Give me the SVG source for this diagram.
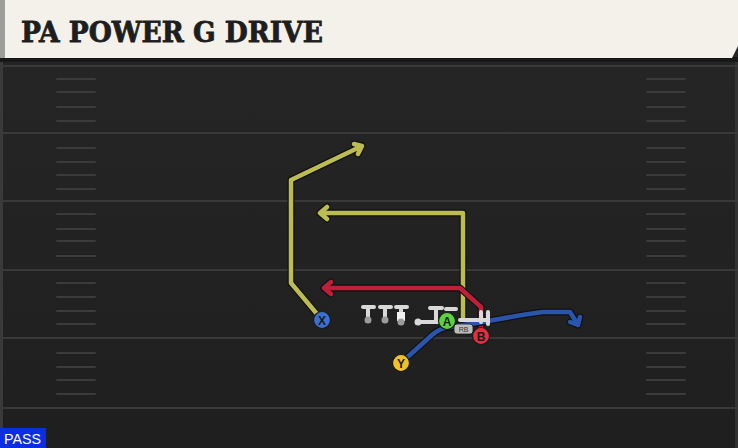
<svg xmlns="http://www.w3.org/2000/svg" width="738" height="448" viewBox="0 0 738 448">
<defs>
<style>
.fl{stroke:#393939;stroke-width:2}
.hm{stroke:#3b3b3b;stroke-width:2;stroke-linecap:round}
.out{fill:none;stroke:#111;stroke-width:7;stroke-linejoin:round;stroke-linecap:round}
.rt{fill:none;stroke-width:4.5;stroke-linejoin:round;stroke-linecap:round}
.yel{stroke:#bcbc52}
.red{stroke:#c01f3a}
.blu{stroke:#2a55ad}
.ln{fill:none;stroke:#d9d9d9;stroke-width:4;stroke-linecap:round}
.dot{fill:#9c9c9c}
.pc{stroke:#1a1a1a;stroke-width:1.2}
.pl{font-family:"Liberation Sans",Arial,sans-serif;font-size:12px;font-weight:bold;fill:#1b1b1b;text-anchor:middle}
</style>
<linearGradient id="bg" x1="0" y1="0" x2="0" y2="1">
<stop offset="0" stop-color="#262626"/>
<stop offset="1" stop-color="#1f1f1f"/>
</linearGradient>
</defs>
<rect width="738" height="448" fill="url(#bg)"/>
<rect x="0" y="60" width="3" height="388" fill="#3a3a3a"/>
<rect x="735" y="60" width="3" height="388" fill="#333"/>
<g id="field">
<line class="fl" x1="0" y1="66" x2="738" y2="66"/>
<line class="fl" x1="0" y1="133" x2="738" y2="133"/>
<line class="fl" x1="0" y1="201" x2="738" y2="201"/>
<line class="fl" x1="0" y1="270" x2="738" y2="270"/>
<line class="fl" x1="0" y1="338" x2="738" y2="338"/>
<line class="fl" x1="0" y1="408" x2="738" y2="408"/>
<path class="hm" d="M57 79H95M57 92H95M57 107H95M57 121H95M57 148H95M57 162H95M57 175H95M57 189H95M57 214H95M57 229H95M57 241H95M57 256H95M57 283H95M57 297H95M57 311H95M57 324H95M57 353H95M57 367H95M57 380H95M57 394H95"/>
<path class="hm" d="M647 79H685M647 92H685M647 107H685M647 121H685M647 148H685M647 162H685M647 175H685M647 189H685M647 214H685M647 229H685M647 241H685M647 256H685M647 283H685M647 297H685M647 311H685M647 324H685M647 353H685M647 367H685M647 380H685M647 394H685"/>
</g>
<g id="header">
<rect x="0" y="57" width="738" height="5" fill="#181818"/>
<path d="M0 0H738V46L732 58H0Z" fill="#f4f1ea"/>
<rect x="0" y="0" width="5" height="58" fill="#9d9d9b"/>
<text x="21" y="42" font-family="'DejaVu Serif',serif" font-weight="bold" font-size="27" fill="#1e1e1e" stroke="#1e1e1e" stroke-width="0.8" textLength="302" lengthAdjust="spacingAndGlyphs">PA POWER G DRIVE</text>
</g>
<g id="connectors">
<path class="out" d="M322 320L291 283V180L362 146M354 144L362 146L358 154"/>
<path class="rt yel" d="M322 320L291 283V180L362 146M354 144L362 146L358 154"/>
<path class="out" d="M463 323V213H320M327 207L320 213L327 219"/>
<path class="rt yel" d="M463 323V213H320M327 207L320 213L327 219"/>
<path class="out" d="M481 336V307L460 288H324M331 282L324 288L331 294"/>
<path class="rt red" d="M481 336V307L460 288H324M331 282L324 288L331 294"/>
<path class="out" d="M401 363L432 335Q440 328 450 327L483 322Q520 315 543 312H570L578 325M570 322L578 325L580 317"/>
<path class="rt blu" d="M401 363L432 335Q440 328 450 327L483 322Q520 315 543 312H570L578 325M570 322L578 325L580 317"/>
</g>
<g id="line">
<path class="ln" d="M363 307H374M368 307V318M380 307H391M385 307V318M396 307H407M401 307V313"/>
<circle class="dot" cx="368" cy="320" r="3.5"/>
<circle class="dot" cx="385" cy="320" r="3.5"/>
<rect x="397" y="312" width="8" height="9" fill="#f2f2f2"/>
<circle class="dot" cx="401" cy="322" r="3.5"/>
<circle cx="418" cy="322" r="3.5" fill="#d9d9d9"/>
<path class="ln" d="M418 322H440M430 308H442M436 308V322M446 309H456M460 320H488M488 312V324M481 312V322"/>
</g>
<g id="rb">
<rect x="454" y="324" width="19" height="10" rx="3" fill="#bdbdbd" stroke="#1a1a1a" stroke-width="0.8"/>
<text x="463.5" y="332" font-family="'Liberation Sans',Arial,sans-serif" font-size="7" fill="#333" text-anchor="middle">RB</text>
</g>
<g id="X"><circle class="pc" cx="322" cy="320" r="8.5" fill="#3b6fd0"/><text class="pl" x="322" y="324.5">X</text></g>
<g id="A"><circle class="pc" cx="447" cy="321" r="8.5" fill="#5bd33f"/><text class="pl" x="447" y="325.5">A</text></g>
<g id="B"><circle class="pc" cx="481" cy="336" r="8.5" fill="#e0303f"/><text class="pl" x="481" y="340.5">B</text></g>
<g id="Y"><circle class="pc" cx="401" cy="363" r="8.5" fill="#f0c22a"/><text class="pl" x="401" y="367.5">Y</text></g>
<g id="pass">
<rect x="0" y="428" width="46" height="20" fill="#0a2ee0"/>
<text x="4" y="444" font-family="'Liberation Sans',Arial,sans-serif" font-size="15" fill="#fff" textLength="37" lengthAdjust="spacingAndGlyphs">PASS</text>
</g>
</svg>
